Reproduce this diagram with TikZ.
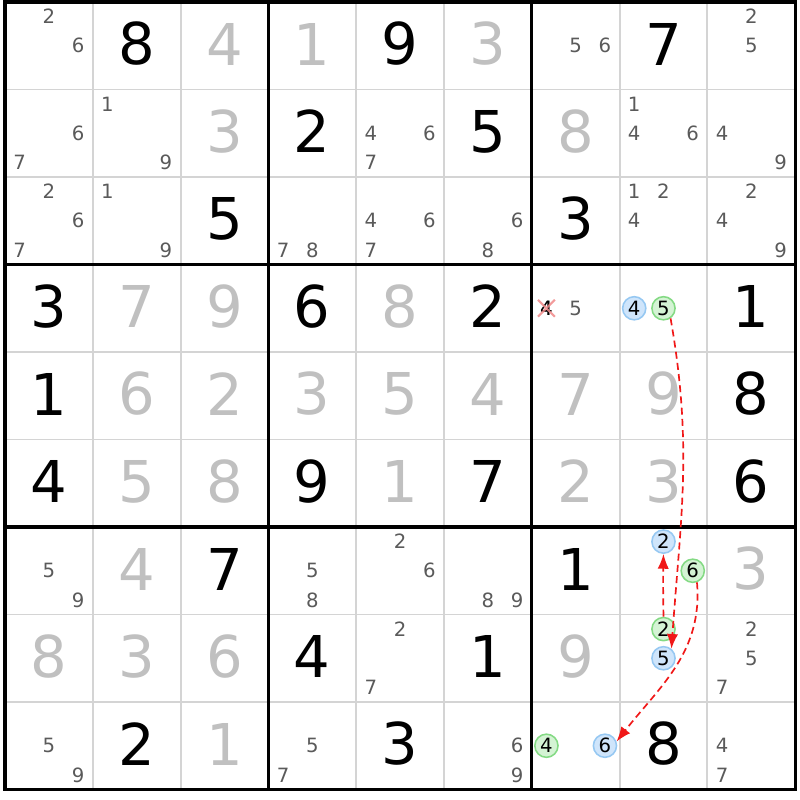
\documentclass[tikz,border=0pt]{standalone}
\usepackage{fontspec}
\setmainfont{DejaVu Sans}
\usetikzlibrary{arrows.meta}

\definecolor{thingrid}{HTML}{D4D4D4}
\definecolor{solvedgray}{HTML}{C0C0C0}
\definecolor{pencilgray}{HTML}{5A5A5A}
\definecolor{offfill}{HTML}{CFE5FB}
\definecolor{offline}{HTML}{96C8F2}
\definecolor{onfill}{HTML}{D4F3D4}
\definecolor{online}{HTML}{84DA84}
\definecolor{linkred}{HTML}{F01818}
\definecolor{crossred}{HTML}{F08A8A}

\begin{document}
\begin{tikzpicture}[x=2.195cm, y=-2.1875cm,
        given/.style={font=\fontsize{41}{41}\selectfont, inner sep=0pt},
        solved/.style={given, text=solvedgray},
        pencil/.style={font=\fontsize{14}{14}\selectfont, text=pencilgray, inner sep=0pt},
        offcand/.style={pencil, text=black, circle, draw=offline, fill=offfill, line width=1.1pt, minimum size=16.5pt},
        oncand/.style={offcand, draw=online, fill=onfill},
        link/.style={draw=linkred, line width=1.2pt, dash pattern=on 5pt off 3pt, -{Latex[length=10.5pt,width=8pt,fill=linkred]}}]
    \useasboundingbox (-0.057,-0.023) rectangle (9.055,9.12);
    % grid
    \foreach \i in {1,2,4,5,7,8} {
        \draw[thingrid, line width=1.4pt] (\i,0) -- (\i,9);
        \draw[thingrid, line width=1.4pt] (0,\i) -- (9,\i);
    }
    \foreach \i in {3,6} {
        \draw[line width=2.2pt] (\i,0) -- (\i,9);
        \draw[line width=2.2pt] (0,\i) -- (9,\i);
    }
    \draw[line width=2.2pt] (0,0) rectangle (9,9);
    % givens and solved cells
    \foreach \col/\row/\dig in {2/1/8, 5/1/9, 8/1/7, 4/2/2, 6/2/5, 3/3/5, 7/3/3,
            1/4/3, 4/4/6, 6/4/2, 9/4/1, 1/5/1, 9/5/8, 1/6/4, 4/6/9, 6/6/7, 9/6/6,
            3/7/7, 7/7/1, 4/8/4, 6/8/1, 2/9/2, 5/9/3, 8/9/8}
        \node[given] (g-\col-\row) at (\col-0.5,\row-0.52) {\dig};
    \foreach \col/\row/\dig in {3/1/4, 4/1/1, 6/1/3, 3/2/3, 7/2/8, 2/4/7, 3/4/9, 5/4/8,
            2/5/6, 3/5/2, 4/5/3, 5/5/5, 6/5/4, 7/5/7, 8/5/9, 2/6/5, 3/6/8, 5/6/1,
            7/6/2, 8/6/3, 2/7/4, 9/7/3, 1/8/8, 2/8/3, 3/8/6, 7/8/9, 3/9/1}
        \node[solved] (s-\col-\row) at (\col-0.5,\row-0.52) {\dig};
    % pencil marks
    \foreach \col/\row/\dig in {1/1/2, 1/1/6, 7/1/5, 7/1/6, 9/1/2, 9/1/5,
            1/2/6, 1/2/7, 2/2/1, 2/2/9, 5/2/4, 5/2/6, 5/2/7, 8/2/1, 8/2/4, 8/2/6, 9/2/4, 9/2/9,
            1/3/2, 1/3/6, 1/3/7, 2/3/1, 2/3/9, 4/3/7, 4/3/8, 5/3/4, 5/3/6, 5/3/7,
            6/3/6, 6/3/8, 8/3/1, 8/3/2, 8/3/4, 9/3/2, 9/3/4, 9/3/9, 7/4/5,
            1/7/5, 1/7/9, 4/7/5, 4/7/8, 5/7/2, 5/7/6, 6/7/8, 6/7/9,
            5/8/2, 5/8/7, 9/8/2, 9/8/5, 9/8/7,
            1/9/5, 1/9/9, 4/9/5, 4/9/7, 6/9/6, 6/9/9, 9/9/4, 9/9/7}
        \node[pencil] (p-\col-\row-\dig) at ({\col-1+(mod(\dig-1,3)+0.5)/3},{\row-1+(floor((\dig-1)/3)+0.5)/3}) {\dig};
    % chain candidates
    \foreach \col/\row/\dig/\kind in {7/4/4/pencil, 8/4/4/offcand, 8/4/5/oncand,
            8/7/2/offcand, 8/7/6/oncand, 8/8/2/oncand, 8/8/5/offcand,
            7/9/4/oncand, 7/9/6/offcand}
        \node[\kind] (r\row c\col n\dig) at ({\col-1+(mod(\dig-1,3)+0.5)/3},{\row-1+(floor((\dig-1)/3)+0.5)/3}) {\dig};
    \node[pencil, text=black] at (r4c7n4) {4};
    \draw[crossred, line width=1.5pt, opacity=0.85]
        ([shift={(-6pt,6pt)}]r4c7n4.center) -- ([shift={(6pt,-6pt)}]r4c7n4.center)
        ([shift={(-6pt,-6pt)}]r4c7n4.center) -- ([shift={(6pt,6pt)}]r4c7n4.center);
    % links
    \draw[link] (r4c8n5.-55) to[out=-80, in=86] (r8c8n5.50);
    \draw[link] (r8c8n2.north) to[out=91, in=-91] (r7c8n2.south);
    \draw[link] (r7c8n6.-70) to[out=-85, in=52] (r9c7n6.20);
\end{tikzpicture}
\end{document}
